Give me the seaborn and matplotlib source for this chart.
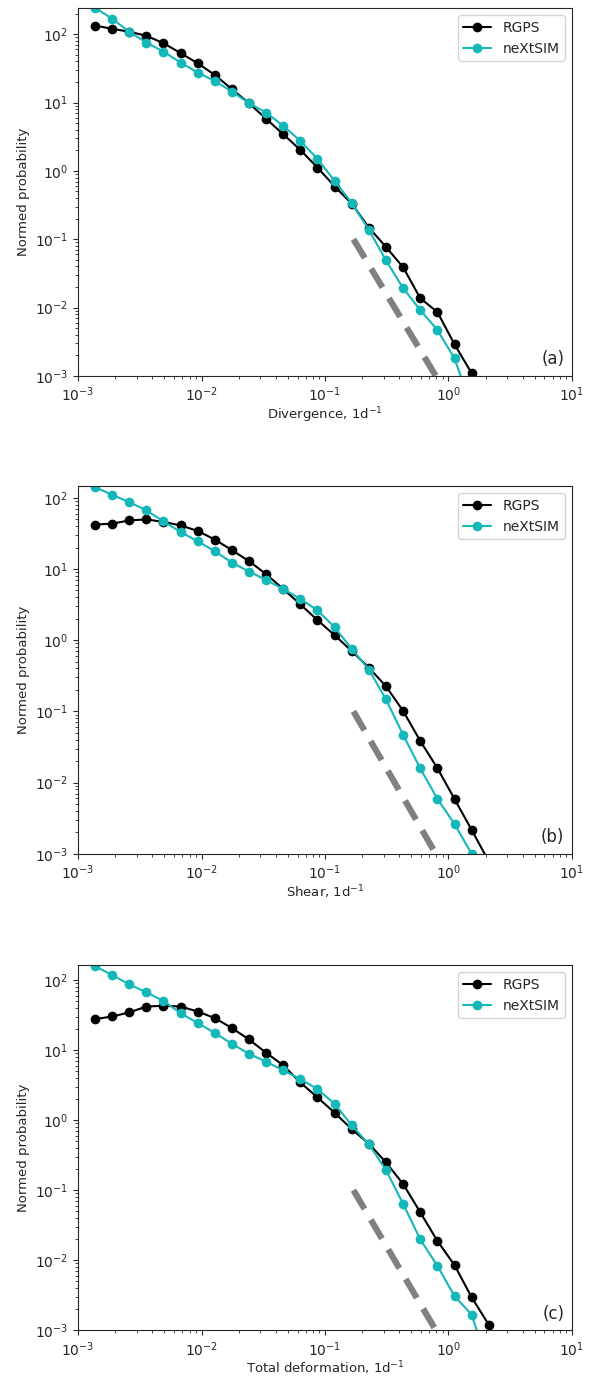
import seaborn as sns
import matplotlib.pyplot as plt
import pandas as pd
import numpy as np

# bin centres (strain rate, 1/day)
x_bins = [0.00137, 0.00189, 0.00259, 0.00357, 0.00491, 0.00676, 0.00930, 0.0128,
          0.0176, 0.0242, 0.0333, 0.0459, 0.0631, 0.0869, 0.120, 0.165,
          0.227, 0.312, 0.430, 0.591, 0.814, 1.12, 1.54, 2.12]

# (a) divergence
div_rgps = [134, 120, 109, 95, 74, 53, 37.6, 25.4, 15.7, 9.8, 5.8, 3.44,
            2.03, 1.12, 0.59, 0.33, 0.148, 0.077, 0.0388, 0.0137, 0.0086, 0.0029, 0.0011, 0.0003]
div_nextsim = [245, 168, 109, 75.5, 55.7, 38.5, 27.5, 20.7, 14.5, 9.8, 7.14, 4.56,
               2.75, 1.50, 0.71, 0.336, 0.137, 0.049, 0.0192, 0.0092, 0.0047, 0.0018, 0.00035, 0.0001]

# (b) shear
shear_rgps = [42, 43.4, 48, 49.8, 45.7, 41, 34.2, 25.9, 18.4, 12.9, 8.47, 5.23,
              3.19, 1.91, 1.17, 0.70, 0.41, 0.225, 0.101, 0.0384, 0.0159, 0.00587, 0.00217, 0.00078]
shear_nextsim = [141, 110, 87, 66.5, 46.7, 33.1, 24.5, 17.8, 12.3, 9.2, 7.0, 5.23,
                 3.79, 2.63, 1.51, 0.75, 0.385, 0.147, 0.0466, 0.0158, 0.0059, 0.00262, 0.001, 0.0004]

# (c) total deformation
tot_rgps = [27.7, 30.3, 34.5, 42, 43, 42, 35.6, 28.7, 20.7, 14.2, 9.2, 6.07,
            3.45, 2.11, 1.27, 0.74, 0.46, 0.249, 0.122, 0.0483, 0.0188, 0.0085, 0.00296, 0.0012]
tot_nextsim = [158, 118, 87, 67, 50.4, 33.7, 24.4, 17.6, 12.3, 8.87, 6.84, 5.15,
               3.85, 2.78, 1.70, 0.84, 0.45, 0.194, 0.0634, 0.0198, 0.0083, 0.00306, 0.00167, 0.0003]

# reference power law slope -3
ref_x = [0.17, 0.8]
ref_y = [0.1, 0.1 * (0.17 / 0.8) ** 3]

panels = [
    ('Divergence, 1d$^{-1}$', div_rgps, div_nextsim, '(a)', 240),
    ('Shear, 1d$^{-1}$', shear_rgps, shear_nextsim, '(b)', 146),
    ('Total deformation, 1d$^{-1}$', tot_rgps, tot_nextsim, '(c)', 163),
]

sns.set_style('ticks')
plt.rcParams['font.family'] = ['DejaVu Sans']

fig = plt.figure(figsize=(5.92, 13.77), dpi=100)
# axes boxes [left, bottom, width, height] in figure fraction
boxes = [[0.132, 0.727, 0.834, 0.267],
         [0.132, 0.380, 0.834, 0.267],
         [0.132, 0.034, 0.834, 0.265]]

for (xlabel, rgps, nxs, tag, ytop), box in zip(panels, boxes):
    ax = fig.add_axes(box)
    df = pd.DataFrame({'x': x_bins * 2,
                       'y': rgps + nxs,
                       'src': ['RGPS'] * len(x_bins) + ['neXtSIM'] * len(x_bins)})
    sns.lineplot(data=df, x='x', y='y', hue='src', palette={'RGPS': 'k', 'neXtSIM': '#14b8b8'},
                 marker='o', markersize=7, markeredgewidth=0, linewidth=1.5,
                 ax=ax, estimator=None, sort=False)
    ax.plot(ref_x, ref_y, color='gray', linestyle='--', linewidth=4.5, dashes=(3.5, 2))
    ax.set_xscale('log')
    ax.set_yscale('log')
    ax.set_xlim(1e-3, 1e1)
    ax.set_ylim(1e-3, ytop)
    ax.set_xlabel(xlabel, fontsize=9.5, labelpad=1)
    ax.set_ylabel('Normed probability', fontsize=9.5)
    ax.tick_params(labelsize=10)
    ax.legend(loc='upper right', fontsize=10, title=None)
    ax.text(0.985, 0.045, tag, transform=ax.transAxes, ha='right', va='center', fontsize=12)

fig.savefig('out.png', dpi=100)
